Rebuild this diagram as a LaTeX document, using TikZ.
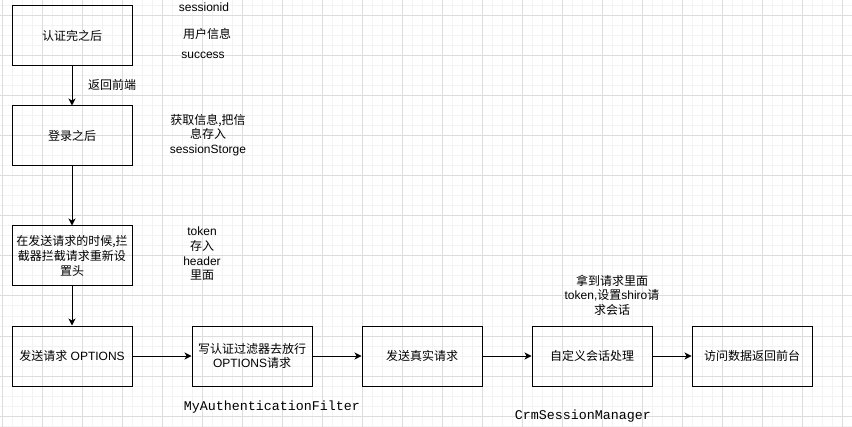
\documentclass[tikz,border=0pt]{standalone}
\usepackage{fontspec}
\setmainfont{Liberation Sans}
\setmonofont{Liberation Mono}
\newfontfamily\cjk{Noto Sans CJK SC}
\newcommand{\zh}[1]{{\cjk #1}}
\usetikzlibrary{arrows.meta}
\definecolor{gridmajor}{HTML}{DDDDDD}
\definecolor{gridminor}{HTML}{F3F3F3}

\begin{document}
\begin{tikzpicture}[x=0.75pt, y=-0.75pt,
		blk/.style={rectangle, draw=black, line width=0.75pt,
				minimum width=90pt, minimum height=45pt,
				inner sep=2pt, align=center,
				font=\fontsize{9}{11}\selectfont},
		lbl/.style={align=center, inner sep=0pt,
				font=\fontsize{9}{11}\selectfont},
		code/.style={inner sep=0pt, font=\ttfamily\fontsize{10}{12}\selectfont},
		arr/.style={-{Stealth[length=5.25pt, width=5.25pt, inset=1.5pt]},
				line width=0.75pt},
	]

	% ---- Fondo: cuadricula ----
	\useasboundingbox (0,0) rectangle (852,427);
	\fill[white] (0,0) rectangle (852,427);
	\foreach \gx in {2,12,...,852}
	\draw[gridminor, line width=0.75pt] (\gx,0) -- (\gx,427);
	\foreach \gy in {6,16,...,426}
	\draw[gridminor, line width=0.75pt] (0,\gy) -- (852,\gy);
	\foreach \gx in {2,42,...,842}
	\draw[gridmajor, line width=0.75pt] (\gx,0) -- (\gx,427);
	\foreach \gy in {16,56,...,416}
	\draw[gridmajor, line width=0.75pt] (0,\gy) -- (852,\gy);

	% ---- Columna izquierda ----
	\node[blk] (auth) at (72,36) {\zh{认证完之后}};
	\node[blk] (login) at (72,136) {\zh{登录之后}};
	\node[blk] (intercept) at (72,256)
	{\zh{在发送请求的时候,拦}\\\zh{截器拦截请求重新设}\\\zh{置头}};

	% ---- Fila inferior ----
	\node[blk] (options) at (72,356) {\zh{发送请求} OPTIONS};
	\node[blk] (filter) at (252,356) {\zh{写认证过滤器去放行}\\OPTIONS\zh{请求}};
	\node[blk] (real) at (422,356) {\zh{发送真实请求}};
	\node[blk] (session) at (592,356) {\zh{自定义会话处理}};
	\node[blk] (result) at (752,356) {\zh{访问数据返回前台}};

	% ---- Notas ----
	\node[lbl] (sid) at (204,7) {sessionid};
	\node[lbl] (uinfo) at (207,34) {\zh{用户信息}};
	\node[lbl] (succ) at (203,55) {success};
	\node[lbl] (back) at (112,85) {\zh{返回前端}};
	\node[lbl] (store) at (208,135)
	{\zh{获取信息,把信}\\\zh{息存入}\\sessionStorge};
	\node[lbl] (tokenhdr) at (202,254)
	{token\\\zh{存入}\\header\\\zh{里面}};
	\node[lbl] (shiro) at (612,295)
	{\zh{拿到请求里面}\\token,\zh{设置}shiro\zh{请}\\\zh{求会话}};
	\node[code] (filtername) at (272,407) {MyAuthenticationFilter};
	\node[code] (mgrname) at (583,416) {CrmSessionManager};

	% ---- Flechas ----
	\draw[arr] (auth) -- (login);
	\draw[arr] (login) -- (intercept);
	\draw[arr] (intercept) -- (options);
	\draw[arr] (options) -- (filter);
	\draw[arr] (filter) -- (real);
	\draw[arr] (real) -- (session);
	\draw[arr] (session) -- (result);

\end{tikzpicture}
\end{document}
